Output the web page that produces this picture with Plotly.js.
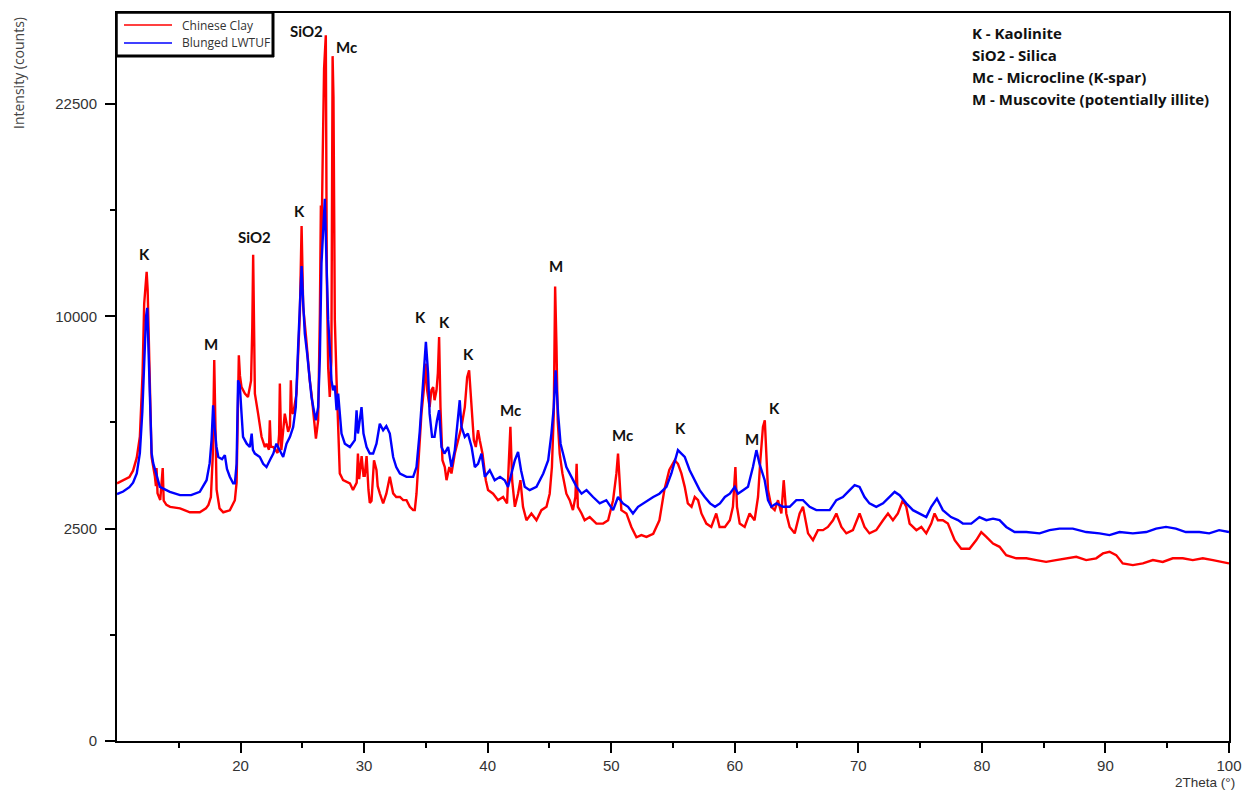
<!DOCTYPE html>
<html>
<head>
<meta charset="utf-8">
<script src="https://cdn.plot.ly/plotly-3.0.1.min.js"></script>
<style>html,body{margin:0;padding:0;background:#fff;}#chart{width:1248px;height:791px;}</style>
</head>
<body>
<div id="chart"></div>
<script>
// ---------- DATA ----------
const clayTheta = [10.0,10.5,11.0,11.3,11.6,11.85,12.07,12.2,12.3,12.4,12.48,12.56,12.66,12.8,13.07,13.15,13.2,13.28,13.5,13.7,13.78,14.0,14.3,15.1,15.9,16.7,17.2,17.4,17.6,17.75,17.87,17.95,18.06,18.3,18.6,19.13,19.54,19.68,19.78,19.86,19.95,20.08,20.35,20.6,20.85,20.95,21.02,21.1,21.16,21.42,21.7,21.97,22.1,22.3,22.37,22.45,22.65,23.0,23.12,23.18,23.26,23.3,23.58,23.85,24.0,24.07,24.15,24.26,24.53,24.66,24.8,24.94,25.07,25.3,25.47,25.6,25.74,25.93,26.1,26.28,26.42,26.5,26.55,26.65,26.76,26.9,26.98,27.09,27.22,27.35,27.45,27.52,27.63,27.77,27.9,28.03,28.3,28.85,29.1,29.4,29.5,29.6,29.8,29.95,30.05,30.2,30.35,30.46,30.6,30.8,31.0,31.1,31.27,31.54,31.8,32.08,32.35,32.6,32.9,33.16,33.43,33.7,33.97,34.1,34.24,34.37,34.64,34.83,35.0,35.1,35.3,35.45,35.59,35.7,35.86,35.97,36.07,36.18,36.34,36.53,36.67,36.9,37.07,37.34,37.6,37.88,38.15,38.34,38.5,38.7,38.88,39.04,39.22,39.36,39.58,39.85,40.03,40.44,40.84,41.25,41.57,41.73,41.84,41.98,42.2,42.46,42.65,42.86,43.14,43.54,43.95,44.35,44.76,45.02,45.2,45.35,45.46,45.57,45.67,45.83,46.05,46.37,46.64,46.9,47.1,47.2,47.3,47.6,47.85,48.26,48.8,49.34,49.75,50.15,50.42,50.55,50.69,50.82,51.23,51.63,52.04,52.44,52.85,53.4,53.9,54.3,54.7,55.14,55.4,55.68,55.95,56.2,56.5,56.76,57.03,57.3,57.7,58.1,58.5,58.77,59.2,59.6,59.85,60.05,60.18,60.4,60.8,61.2,61.6,61.88,62.07,62.28,62.43,62.56,62.69,62.96,63.23,63.5,63.77,63.96,64.17,64.44,64.85,65.25,65.52,65.93,66.33,66.73,67.14,67.54,67.95,68.22,68.63,69.03,69.56,70.1,70.5,70.9,71.45,72.0,72.4,72.8,73.2,73.6,73.88,74.15,74.7,75.1,75.5,75.9,76.17,76.44,76.84,77.25,77.8,78.33,79.0,79.55,79.95,80.36,80.9,81.43,81.97,82.78,83.6,84.4,85.2,86.0,86.8,87.64,88.44,89.25,89.8,90.33,90.87,91.4,92.22,93.03,93.84,94.64,95.45,96.26,97.07,97.88,98.7,99.5,100.0];
const clayCounts = [3680,3760,3860,4050,4450,5130,7500,10600,11500,12200,11300,9350,6070,4470,3870,3600,4130,3400,3220,4130,3200,3090,3040,3000,2900,2900,3000,3090,3300,4500,8050,5200,3500,3000,2900,2950,3215,3700,6500,8250,7400,6940,6690,6560,7200,9500,13100,9000,6690,5940,5130,4790,4900,4700,5700,4800,4790,4600,5200,7080,5000,4690,5940,5300,5500,7210,6000,5940,6690,8040,10130,14700,10440,9050,7750,7210,6690,5700,5070,5700,10130,15900,13500,19000,25060,27600,12000,7750,6560,8000,26000,23000,9830,7210,5010,3970,3770,3680,3490,3700,4580,3800,4500,3900,3900,4500,3500,3140,3200,4370,4070,3600,3400,3130,3390,3870,3400,3300,3300,3215,3215,3040,2954,2954,3390,4160,5940,6820,7900,6820,6180,6820,6940,6437,6820,7500,9050,6180,4370,4160,3770,4160,3967,4580,5016,5470,6180,7340,7620,6180,5016,4790,5354,5016,4580,3770,3490,3390,3215,3300,3130,4470,5470,3770,3040,3390,3770,3040,2700,2870,2700,2954,3040,3390,4160,5940,11450,8600,5700,4580,3970,3390,3215,2954,3300,4260,3040,2870,2700,2780,2620,2620,2700,3215,3970,4580,3580,2954,2870,2540,2300,2350,2310,2380,2700,3490,4070,4370,4260,3970,3580,3130,3040,3300,3215,2870,2620,2540,2870,2540,2540,2700,3040,4160,3040,2620,2540,2870,2700,3300,4370,5470,5700,4470,3490,3040,2954,3215,2870,3770,2870,2540,2390,2870,3040,2390,2237,2464,2464,2540,2700,2870,2540,2390,2464,2870,2540,2390,2464,2700,2870,2700,2870,3215,3040,2620,2464,2540,2390,2620,2870,2700,2700,2620,2237,2050,2050,2237,2420,2310,2160,2090,1915,1850,1850,1814,1778,1814,1850,1880,1814,1850,1950,1985,1915,1748,1715,1748,1814,1778,1850,1850,1814,1850,1814,1778,1748];

const lwtufTheta = [10.0,10.5,11.0,11.3,11.6,11.85,12.05,12.2,12.35,12.45,12.55,12.66,12.8,12.93,13.2,13.47,14.28,15.1,16.0,16.7,17.25,17.5,17.65,17.78,17.9,18.05,18.2,18.5,18.73,18.9,19.13,19.4,19.54,19.68,19.8,19.94,20.08,20.2,20.5,20.75,20.9,21.0,21.16,21.56,21.83,22.1,22.37,22.65,22.9,23.18,23.45,23.72,24.0,24.26,24.47,24.66,24.8,24.94,25.07,25.2,25.39,25.6,25.74,25.93,26.09,26.28,26.42,26.55,26.7,26.82,26.96,27.09,27.22,27.36,27.49,27.63,27.77,27.9,28.17,28.44,28.85,29.25,29.39,29.5,29.79,29.95,30.2,30.46,30.73,31.0,31.27,31.54,31.8,32.08,32.35,32.6,32.9,33.43,33.97,34.24,34.5,34.77,35.0,35.18,35.3,35.5,35.7,35.9,36.07,36.26,36.5,36.8,37.07,37.34,37.6,37.74,37.88,38.15,38.4,38.7,38.96,39.22,39.5,39.77,40.17,40.57,41.0,41.38,41.65,41.93,42.2,42.46,42.7,43.0,43.4,43.95,44.5,44.9,45.16,45.35,45.5,45.7,45.9,46.1,46.37,46.78,47.2,47.6,48.0,48.53,49.07,49.6,50.15,50.55,50.95,51.36,51.76,52.17,52.57,52.98,53.4,53.9,54.47,54.87,55.14,55.4,55.68,55.95,56.35,56.76,57.16,57.57,58.0,58.4,58.8,59.2,59.6,60.0,60.26,60.67,61.07,61.47,61.75,62.0,62.23,62.42,62.69,62.96,63.37,63.9,64.44,64.98,65.52,66.06,66.6,67.14,67.68,68.22,68.75,69.3,69.7,70.1,70.5,70.9,71.45,72.0,72.53,72.94,73.34,73.88,74.42,74.96,75.5,75.9,76.36,76.84,77.5,78.06,78.46,79.14,79.8,80.36,80.9,81.43,81.97,82.65,83.6,84.67,85.48,86.28,87.36,88.44,89.52,90.33,91.14,92.22,93.3,94.1,94.9,95.7,96.5,97.6,98.4,99.2,100.0];
const lwtufCounts = [3380,3450,3570,3700,3970,4590,6000,8000,10000,10400,8500,5800,4600,4280,3900,3580,3440,3350,3350,3440,3770,4280,5000,6250,5470,4800,4470,4400,4530,4100,3870,3680,3680,4260,7210,7000,5940,5130,4900,4790,5240,4700,4580,4470,4260,4160,4371,4580,4900,4690,4470,4900,5130,5470,6180,8600,10440,12500,10620,9200,8320,7210,6560,6066,5700,6180,8170,12640,15000,16300,12640,9830,8600,7210,6820,7000,6066,6690,5240,4900,4790,5016,6066,5240,6180,5240,4790,4580,4580,4900,5580,5354,5500,5240,4470,4160,3967,3868,3868,4160,5300,7210,8830,7480,5940,5126,5126,5705,6066,4790,4580,4790,4160,4690,5705,6437,5470,5126,5240,4790,4160,4260,4580,3868,4066,3771,3868,3771,3580,3967,4371,4630,4066,3580,3488,3580,3967,4371,5240,6180,7620,5940,4900,4580,4160,3868,3580,3390,3488,3300,3130,3215,2954,3300,3130,3040,2870,3040,3130,3215,3300,3390,3580,3967,4371,4690,4580,4474,4066,3771,3488,3300,3130,3040,3130,3300,3390,3580,3390,3488,3580,4160,4690,4260,3967,3771,3215,3040,3130,3040,3040,3215,3215,3040,2954,2954,2954,3215,3300,3488,3630,3580,3300,3130,3040,3130,3300,3440,3350,3130,2954,2870,2780,3040,3260,2954,2780,2704,2620,2620,2780,2704,2740,2704,2540,2420,2420,2390,2464,2500,2500,2420,2390,2350,2420,2390,2420,2500,2540,2500,2420,2420,2390,2464,2420];

const yTickCounts = [0, 2500, 10000, 22500];
const yMinorCounts = [625, 5625, 15625];
const xTickVals = [20, 30, 40, 50, 60, 70, 80, 90, 100];
const xMinorVals = [15, 25, 35, 45, 55, 65, 75, 85, 95];
const seriesNames = ['Chinese Clay', 'Blunged LWTUF'];
const seriesColors = ['#ff0000', '#0000ff'];

const peakLabels = ['K','M','SiO2','K','SiO2','Mc','K','K','K','Mc','M','Mc','K','M','K'];
const peakLabelTheta = [12.26,17.6,21.16,24.8,25.32,28.56,34.56,36.47,38.47,41.87,45.51,50.9,55.6,61.39,63.23];
const peakLabelCounts = [13130,8720,14070,15550,27920,26730,9960,9740,8300,6070,12500,5180,5420,5040,6130];

const keyLines = ['K - Kaolinite','SiO2 - Silica','Mc - Microcline (K-spar)','M - Muscovite (potentially illite)'];

// ---------- CHART ----------
const W = 1248, H = 791, L = 117, R = 19, T = 13, B = 50;
const PW = W - L - R, PH = H - T - B;
const px2x = px => (px - L) / PW;          // pixel -> paper x
const py2y = py => 1 - (py - T) / PH;      // pixel -> paper y
const sq = a => a.map(v => Math.sqrt(v));

const traces = [
  {x: clayTheta, y: sq(clayCounts), name: seriesNames[0], type: 'scatter', mode: 'lines',
   line: {color: seriesColors[0], width: 2.4}},
  {x: lwtufTheta, y: sq(lwtufCounts), name: seriesNames[1], type: 'scatter', mode: 'lines',
   line: {color: seriesColors[1], width: 2.4}}
];

const annotations = [];
peakLabels.forEach((t, i) => {
  annotations.push({x: peakLabelTheta[i], y: Math.sqrt(peakLabelCounts[i]), xref: 'x', yref: 'y',
    text: '<b>' + t + '</b>', showarrow: false,
    font: {family: 'Lato, Open Sans, sans-serif', size: 15, color: '#111'},
    xanchor: 'center', yanchor: 'middle'});
});
keyLines.forEach((t, i) => {
  annotations.push({x: px2x(970), y: py2y(33 + i * 22), xref: 'paper', yref: 'paper',
    text: '<b>' + t + '</b>', showarrow: false,
    font: {family: 'Open Sans, Lato, sans-serif', size: 15, color: '#111'},
    xanchor: 'left', yanchor: 'middle'});
});
// axis titles
annotations.push({x: px2x(1237), y: py2y(782), xref: 'paper', yref: 'paper', xanchor: 'right', yanchor: 'middle',
  text: '2Theta (°)', showarrow: false,
  font: {family: 'Liberation Sans, Arial, sans-serif', size: 13.5, color: '#333'}});
annotations.push({x: px2x(18), y: py2y(73), xref: 'paper', yref: 'paper', xanchor: 'center', yanchor: 'middle',
  text: 'Intensity (counts)', textangle: -90, showarrow: false,
  font: {family: 'Open Sans, sans-serif', size: 14, color: '#444'}});

// custom legend (box, line samples, labels)
const shapes = [
  {type: 'rect', xref: 'paper', yref: 'paper', x0: px2x(117), x1: px2x(273), y0: py2y(13), y1: py2y(56),
   fillcolor: '#fff', line: {color: '#000', width: 1.5}, layer: 'above'},
  {type: 'line', xref: 'paper', yref: 'paper', x0: px2x(273), x1: px2x(273), y0: py2y(13), y1: py2y(57),
   line: {color: '#000', width: 3}, layer: 'above'},
  {type: 'line', xref: 'paper', yref: 'paper', x0: px2x(117), x1: px2x(274), y0: py2y(56), y1: py2y(56),
   line: {color: '#000', width: 3}, layer: 'above'}
];
seriesNames.forEach((n, i) => {
  const yy = 25 + i * 18;
  shapes.push({type: 'line', xref: 'paper', yref: 'paper', x0: px2x(124), x1: px2x(172), y0: py2y(yy), y1: py2y(yy),
    line: {color: seriesColors[i], width: 1.5}, layer: 'above'});
  annotations.push({x: px2x(180), y: py2y(yy), xref: 'paper', yref: 'paper', xanchor: 'left', yanchor: 'middle',
    text: n, showarrow: false, font: {family: 'Open Sans, sans-serif', size: 12, color: '#333'}});
});

const tickFont = {family: 'Liberation Sans, Arial, sans-serif', size: 15, color: '#333'};
const layout = {
  width: W, height: H,
  margin: {l: L, r: R, t: T, b: B, pad: 0},
  paper_bgcolor: '#fff', plot_bgcolor: '#fff',
  showlegend: false,
  xaxis: {range: [10, 100], tickmode: 'array', tickvals: xTickVals,
    ticks: 'outside', ticklen: 10, tickwidth: 2, tickcolor: '#000',
    showline: true, linecolor: '#000', linewidth: 2, mirror: true,
    showgrid: false, zeroline: false, tickfont: tickFont,
    minor: {tickmode: 'array', tickvals: xMinorVals, ticks: 'outside', ticklen: 5, tickwidth: 2, tickcolor: '#000', showgrid: false}},
  yaxis: {range: [0, 171.4], tickmode: 'array', tickvals: yTickCounts.map(Math.sqrt),
    ticktext: yTickCounts.map(String),
    ticks: 'outside', ticklen: 10, tickwidth: 2, tickcolor: '#000',
    showline: true, linecolor: '#000', linewidth: 2, mirror: true,
    showgrid: false, zeroline: false, ticklabelstandoff: 5, tickfont: tickFont,
    minor: {tickmode: 'array', tickvals: yMinorCounts.map(Math.sqrt), ticks: 'outside', ticklen: 5, tickwidth: 2, tickcolor: '#000', showgrid: false}},
  annotations: annotations,
  shapes: shapes
};

Plotly.newPlot('chart', traces, layout, {displayModeBar: false, staticPlot: true});
</script>
</body>
</html>
